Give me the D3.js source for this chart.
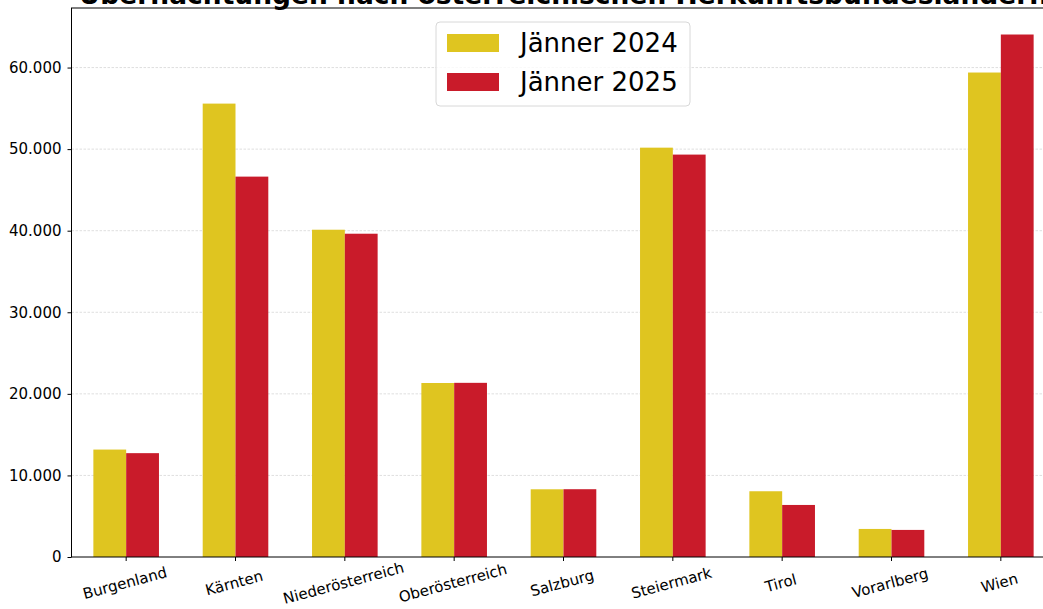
<!DOCTYPE html>
<html>
<head>
<meta charset="utf-8">
<script src="https://cdn.jsdelivr.net/npm/d3@7"></script>
<style>
  body { margin: 0; background: #fff; }
  svg { display: block; font-family: "DejaVu Sans", sans-serif; }
</style>
</head>
<body>
<script>
// Data
var regions = ["Burgenland", "Kärnten", "Niederösterreich", "Oberösterreich", "Salzburg",
               "Steiermark", "Tirol", "Vorarlberg", "Wien"];
var seriesNames = ["Jänner 2024", "Jänner 2025"];
var jan2024 = [13170, 55580, 40120, 21330, 8300, 50180, 8060, 3440, 59390];
var jan2025 = [12730, 46630, 39630, 21350, 8310, 49330, 6380, 3320, 64050];
var yTicks = [0, 10000, 20000, 30000, 40000, 50000, 60000];

var colors = ["#dfc520", "#c91b2a"];

var width = 1043, height = 609;
var plot = { left: 71.5, right: 1055.5, top: 8, bottom: 557 };

var svg = d3.select("body").append("svg")
  .attr("width", width)
  .attr("height", height);

var x = d3.scaleBand()
  .domain(regions)
  .range([plot.left, plot.right])
  .paddingInner(0.4)
  .paddingOuter(0.2);

var xSub = d3.scaleBand()
  .domain(seriesNames)
  .range([0, x.bandwidth()]);

var y = d3.scaleLinear()
  .domain([0, 67300])
  .range([plot.bottom, plot.top]);

var fmt = function(v) {
  return d3.format(",")(v).replace(/,/g, ".");
};

// grid
svg.append("g")
  .selectAll("line")
  .data(yTicks.slice(1))
  .enter()
  .append("line")
  .attr("x1", plot.left)
  .attr("x2", plot.right)
  .attr("y1", d => y(d))
  .attr("y2", d => y(d))
  .attr("stroke", "#b0b0b0")
  .attr("stroke-opacity", 0.5)
  .attr("stroke-width", 0.8)
  .attr("stroke-dasharray", "2.5,1.5");

// bars
var rows = regions.map((r, i) => ({ region: r, values: [jan2024[i], jan2025[i]] }));

var groups = svg.append("g")
  .selectAll("g")
  .data(rows)
  .enter()
  .append("g")
  .attr("transform", d => `translate(${x(d.region)},0)`);

groups.selectAll("rect")
  .data(d => d.values.map((v, k) => ({ name: seriesNames[k], value: v, k: k })))
  .enter()
  .append("rect")
  .attr("x", d => xSub(d.name))
  .attr("width", xSub.bandwidth())
  .attr("y", d => y(d.value))
  .attr("height", d => y(0) - y(d.value))
  .attr("fill", d => colors[d.k]);

// axes
var yAxis = d3.axisLeft(y)
  .tickValues(yTicks)
  .tickFormat(fmt)
  .tickSize(4)
  .tickPadding(6);

var yg = svg.append("g")
  .attr("transform", `translate(${plot.left},0)`)
  .call(yAxis);
yg.select(".domain").remove();
yg.selectAll("text")
  .style("font-size", "15px")
  .style("font-family", "DejaVu Sans")
  .attr("fill", "#000");
yg.selectAll("line").attr("stroke", "#000");

var xAxis = d3.axisBottom(x)
  .tickSize(4)
  .tickPadding(6);

var xg = svg.append("g")
  .attr("transform", `translate(0,${plot.bottom})`)
  .call(xAxis);
xg.select(".domain").remove();
xg.selectAll("line").attr("stroke", "#000");
xg.selectAll("text")
  .style("font-size", "15px")
  .style("font-family", "DejaVu Sans")
  .attr("fill", "#000")
  .attr("text-anchor", "middle")
  .attr("dy", null)
  .attr("y", 0)
  .attr("transform", "translate(0,31) rotate(-15)");

// spines
svg.append("rect")
  .attr("x", plot.left)
  .attr("y", plot.top)
  .attr("width", plot.right - plot.left)
  .attr("height", plot.bottom - plot.top)
  .attr("fill", "none")
  .attr("stroke", "#000")
  .attr("stroke-width", 1);

// title (partly cut off at the top, as in the reference)
svg.append("text")
  .attr("x", (plot.left + plot.right) / 2)
  .attr("y", 4)
  .attr("text-anchor", "middle")
  .style("font-size", "26.5px")
  .style("font-weight", "bold")
  .text("Übernachtungen nach österreichischen Herkunftsbundesländern");

// legend
var legend = svg.append("g").attr("transform", "translate(436,22)");
legend.append("rect")
  .attr("width", 254)
  .attr("height", 84)
  .attr("rx", 4)
  .attr("fill", "#fff")
  .attr("fill-opacity", 0.8)
  .attr("stroke", "#d8d8d8");

seriesNames.forEach(function(name, i) {
  var row = legend.append("g").attr("transform", `translate(11,${12 + i * 39})`);
  row.append("rect")
    .attr("width", 52)
    .attr("height", 18)
    .attr("fill", colors[i]);
  row.append("text")
    .attr("x", 73)
    .attr("y", 9)
    .attr("dy", "0.36em")
    .style("font-size", "26px")
    .text(name);
});
</script>
</body>
</html>
